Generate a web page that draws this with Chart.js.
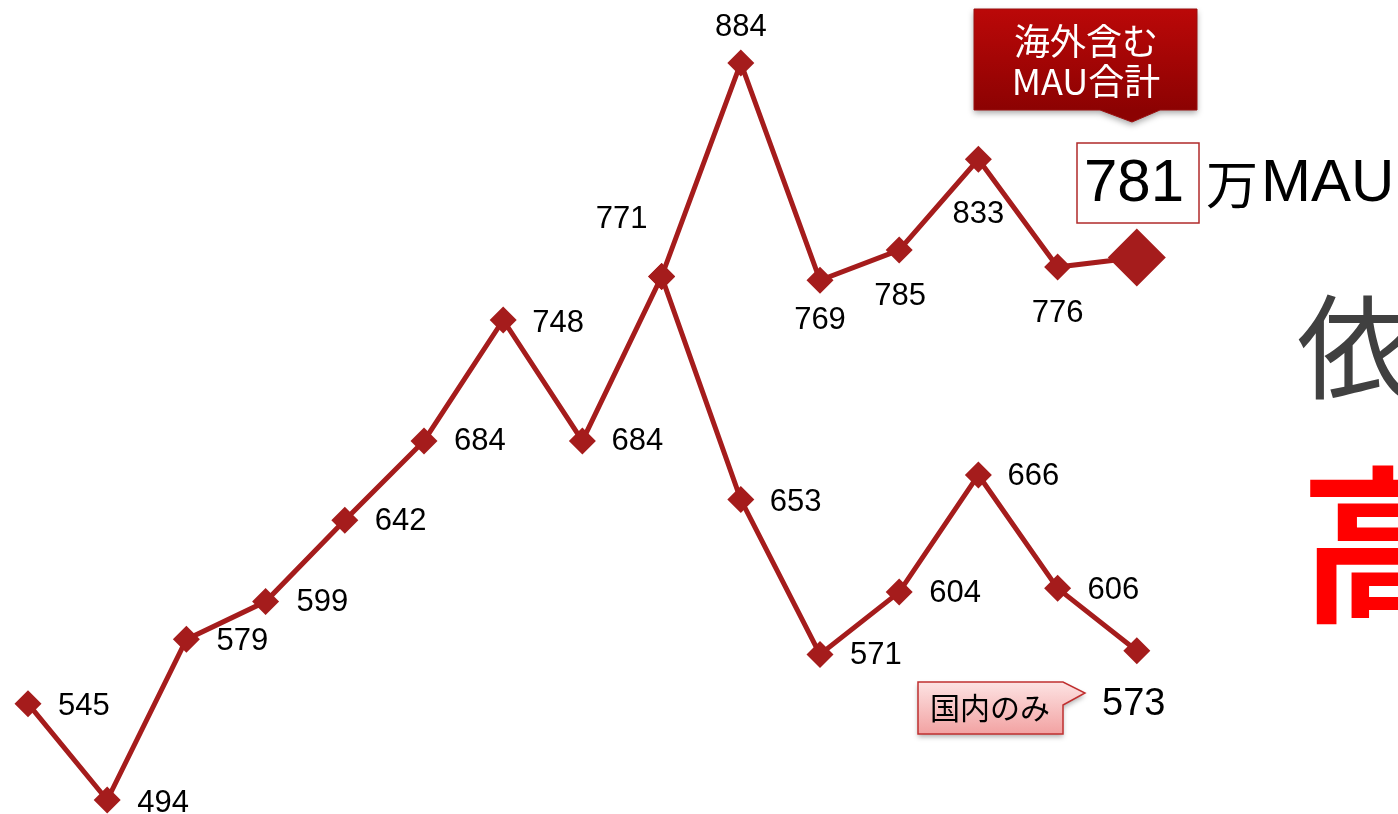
<!DOCTYPE html>
<html>
<head>
<meta charset="utf-8">
<script src="https://cdn.jsdelivr.net/npm/chart.js@4"></script>
<style>
    html, body { margin: 0; padding: 0; background: #ffffff; overflow: hidden; }
    #wrap { position: relative; width: 1398px; height: 814px; }
</style>
</head>
<body>
<div id="wrap"><canvas id="mauChart" width="1398" height="814"></canvas></div>
<script>
// month index along the x axis
const months = [0, 1, 2, 3, 4, 5, 6, 7, 8, 9, 10, 11, 12, 13, 14];
// domestic MAU (万)
const domesticMau = [545, 494, 579, 599, 642, 684, 748, 684, 771, 653, 571, 604, 666, 606, 573];
// MAU incl. overseas, starts where the split begins
const totalMau = [null, null, null, null, null, null, null, null, 771, 884, 769, 785, 833, 776, 781];

// label offsets in px from each point [dx, dy, align]; null = no label
const domesticLabelPos = [
    [30, 3, 'left'], [30, 3, 'left'], [30, 2, 'left'], [31, 1, 'left'], [30, 1, 'left'],
    [30, 1, 'left'], [29, 3, 'left'], [29, 1, 'left'], null, [29, 3, 'left'],
    [30, 1, 'left'], [30, 1, 'left'], [29, 2, 'left'], [30, 2, 'left'], null
];
const totalLabelPos = [
    null, null, null, null, null, null, null, null, [-40, -57, 'center'], [0, -35, 'center'],
    [0, 40, 'center'], [1, 46, 'center'], [0, 55, 'center'], [0, 46, 'center'], null
];

const lineColor = '#a51c1c';

const toPoints = arr => arr.map((v, i) => ({ x: months[i], y: v }));

const valueLabels = {
    id: 'valueLabels',
    afterDatasetsDraw(chart) {
        const ctx = chart.ctx;
        ctx.save();
        ctx.font = "31px 'Liberation Sans', Arial, sans-serif";
        ctx.fillStyle = '#000000';
        ctx.textBaseline = 'middle';
        chart.data.datasets.forEach((ds, di) => {
            const meta = chart.getDatasetMeta(di);
            meta.data.forEach((pt, i) => {
                const pos = ds.labelPos[i];
                const v = ds.data[i].y;
                if (!pos || v === null) return;
                ctx.textAlign = pos[2];
                ctx.fillText(String(v), pt.x + pos[0], pt.y + pos[1]);
            });
        });
        ctx.restore();
    }
};

const annotations = {
    id: 'annotations',
    afterDraw(chart) {
        const ctx = chart.ctx;
        ctx.save();

        // dark red callout: 海外含む MAU合計
        ctx.save();
        ctx.shadowColor = 'rgba(0,0,0,0.35)';
        ctx.shadowBlur = 6;
        ctx.shadowOffsetY = 3;
        let g = ctx.createLinearGradient(0, 9, 0, 110);
        g.addColorStop(0, '#bb0808');
        g.addColorStop(1, '#8c0202');
        ctx.fillStyle = g;
        ctx.beginPath();
        ctx.moveTo(974, 9);
        ctx.lineTo(1197, 9);
        ctx.lineTo(1197, 110);
        ctx.lineTo(1160, 110);
        ctx.lineTo(1132, 122);
        ctx.lineTo(1100, 110);
        ctx.lineTo(974, 110);
        ctx.closePath();
        ctx.fill();
        ctx.restore();
        ctx.strokeStyle = '#9a1010';
        ctx.lineWidth = 1;
        ctx.stroke();
        ctx.fillStyle = '#ffffff';
        ctx.textAlign = 'center';
        ctx.textBaseline = 'middle';
        ctx.font = "36px 'Noto Sans CJK JP', sans-serif";
        ctx.fillText('海外含む', 1086, 41);
        ctx.fillText('MAU合計', 1086, 81);

        // 781 boxed + 万MAU
        ctx.fillStyle = '#ffffff';
        ctx.fillRect(1077, 143, 122, 80);
        ctx.strokeStyle = '#b02a2a';
        ctx.lineWidth = 1.5;
        ctx.strokeRect(1077, 143, 122, 80);
        ctx.fillStyle = '#000000';
        ctx.font = "60px 'Liberation Sans', Arial, sans-serif";
        ctx.textAlign = 'center';
        ctx.fillText('781', 1134, 184);
        ctx.textAlign = 'left';
        ctx.font = "52px 'Noto Sans CJK JP', sans-serif";
        ctx.fillText('万', 1206, 184);
        ctx.font = "60px 'Liberation Sans', Arial, sans-serif";
        ctx.fillText('MAU', 1261, 184);

        // pink callout: 国内のみ
        ctx.save();
        ctx.shadowColor = 'rgba(0,0,0,0.3)';
        ctx.shadowBlur = 5;
        ctx.shadowOffsetY = 3;
        g = ctx.createLinearGradient(0, 681, 0, 734);
        g.addColorStop(0, '#fde4e4');
        g.addColorStop(1, '#f2a2a2');
        ctx.fillStyle = g;
        ctx.beginPath();
        ctx.moveTo(918, 682);
        ctx.lineTo(1063, 682);
        ctx.lineTo(1085, 693);
        ctx.lineTo(1063, 705);
        ctx.lineTo(1063, 734);
        ctx.lineTo(918, 734);
        ctx.closePath();
        ctx.fill();
        ctx.restore();
        ctx.strokeStyle = '#c03030';
        ctx.lineWidth = 1.5;
        ctx.stroke();
        ctx.fillStyle = '#000000';
        ctx.font = "30px 'Noto Sans CJK JP', sans-serif";
        ctx.textAlign = 'center';
        ctx.fillText('国内のみ', 990, 708);

        // 573
        ctx.font = "38px 'Liberation Sans', Arial, sans-serif";
        ctx.textAlign = 'left';
        ctx.fillText('573', 1102, 705);

        // large side text
        ctx.fillStyle = '#404040';
        ctx.font = "114px 'Noto Sans CJK JP', sans-serif";
        ctx.fillText('依', 1297, 347);
        ctx.fillStyle = '#ff0000';
        ctx.font = "700 168px 'Noto Sans CJK JP', sans-serif";
        ctx.fillText('高', 1300, 545);

        ctx.restore();
    }
};

const chart = new Chart(document.getElementById('mauChart').getContext('2d'), {
    type: 'line',
    data: {
        datasets: [{
            label: '国内のみ',
            data: toPoints(domesticMau),
            labelPos: domesticLabelPos,
            borderColor: lineColor,
            backgroundColor: lineColor,
            borderWidth: 5,
            pointStyle: 'rectRot',
            pointRadius: 13.5,
            pointBorderWidth: 0,
            tension: 0,
            clip: false
        }, {
            label: '海外含むMAU合計',
            data: toPoints(totalMau),
            labelPos: totalLabelPos,
            borderColor: lineColor,
            backgroundColor: lineColor,
            borderWidth: 5,
            pointStyle: 'rectRot',
            pointRadius: c => c.dataIndex === totalMau.length - 1 ? 29 : 13.5,
            pointBorderWidth: 0,
            tension: 0,
            clip: false
        }]
    },
    options: {
        responsive: false,
        animation: false,
        layout: { padding: 0, autoPadding: false },
        plugins: {
            legend: { display: false },
            tooltip: { enabled: false }
        },
        scales: {
            x: { type: 'linear', display: false, min: -0.3535, max: 17.298 },
            y: { type: 'linear', display: false, min: 486.6, max: 917.3 }
        }
    },
    plugins: [valueLabels, annotations]
});
</script>
</body>
</html>
